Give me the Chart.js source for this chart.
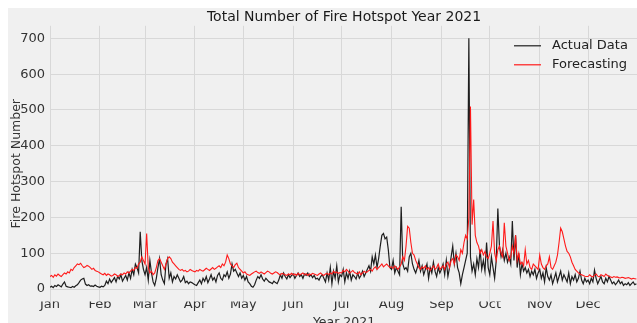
<!DOCTYPE html>
<html>
<head>
<meta charset="utf-8">
<script src="https://cdn.jsdelivr.net/npm/chart.js@4/dist/chart.umd.min.js"></script>
<style>
  html, body { margin: 0; padding: 0; background: #ffffff; overflow: hidden; }
  #wrap { position: absolute; left: 8px; top: 8px; width: 630px; height: 325px; }
</style>
</head>
<body>
<div id="wrap"><canvas id="chart"></canvas></div>
<script>
// Daily fire hotspot counts for 2021 (day index 0 = 1 January)
const monthNames = ['Jan','Feb','Mar','Apr','May','Jun','Jul','Aug','Sep','Oct','Nov','Dec'];
const monthStarts = [0, 31, 59, 90, 120, 151, 181, 212, 243, 273, 304, 334];
const yTicks = [0, 100, 200, 300, 400, 500, 600, 700];

const actual = [
  // Jan
  5, 8, 4, 10, 7, 12, 9, 6, 14, 20, 8, 6, 5, 4, 7, 5, 9, 12, 18, 25, 28, 30, 14, 10, 12, 8, 9, 7, 11, 8, 6,
  // Feb
  5, 8, 6, 10, 22, 15, 28, 18, 25, 32, 20, 35, 28, 40, 22, 30, 38, 25, 45, 30, 55, 40, 70, 60, 45, 160, 80, 55,
  // Mar
  40, 60, 25, 80, 45, 20, 10, 30, 60, 85, 40, 25, 15, 70, 85, 30, 45, 20, 35, 28, 40, 30, 20, 25, 35, 18, 22, 15, 20, 18, 15,
  // Apr
  12, 10, 18, 25, 15, 30, 22, 35, 18, 28, 40, 25, 32, 20, 38, 45, 30, 25, 40, 35, 48, 30, 42, 70, 50, 55, 45, 35, 45, 30,
  // May
  38, 25, 35, 20, 15, 8, 5, 12, 25, 35, 30, 40, 28, 22, 30, 25, 20, 18, 15, 22, 18, 15, 25, 40, 30, 45, 35, 28, 40, 32, 38,
  // Jun
  42, 30, 38, 45, 35, 40, 30, 42, 38, 45, 35, 40, 32, 38, 28, 30, 25, 35, 40, 30, 20, 45, 25, 60, 15, 50, 30, 65, 20, 40,
  // Jul
  35, 55, 20, 45, 30, 50, 25, 40, 35, 28, 45, 30, 38, 50, 35, 45, 55, 65, 50, 90, 70, 95, 60, 85, 120, 150, 155, 140, 145, 110, 60,
  // Aug
  55, 80, 45, 60, 50, 40, 230, 70, 55, 60, 50, 90, 100, 70, 55, 45, 60, 80, 50, 65, 40, 55, 70, 30, 60, 45, 75, 50, 35, 60, 45,
  // Sep
  55, 70, 40, 80, 35, 60, 90, 120, 70, 100, 60, 45, 15, 40, 60, 80, 100, 700, 90, 50, 70, 40, 85, 60, 110, 55, 80, 50, 130, 60,
  // Oct
  40, 90, 60, 30, 80, 225, 120, 90, 110, 80, 100, 75, 90, 70, 190, 80, 150, 60, 100, 40, 70, 50, 60, 45, 55, 35, 50, 40, 55, 30, 45,
  // Nov
  55, 30, 45, 20, 60, 35, 25, 40, 15, 30, 45, 20, 35, 50, 25, 40, 30, 20, 45, 15, 35, 25, 40, 20, 30, 50, 25, 15, 30, 20,
  // Dec
  25, 15, 30, 20, 53, 30, 15, 25, 35, 20, 15, 30, 20, 35, 25, 15, 20, 12, 18, 25, 15, 20, 10, 15, 12, 18, 10, 15, 20, 12, 15
];

const forecast = [
  // Jan
  35, 38, 33, 40, 36, 42, 38, 35, 40, 45, 42, 48, 45, 55, 52, 60, 65, 70, 68, 72, 65, 60, 62, 66, 64, 60, 55, 58, 52, 50, 48,
  // Feb
  45, 42, 40, 44, 38, 42, 40, 36, 38, 42, 40, 35, 38, 42, 40, 45, 42, 48, 45, 50, 55, 52, 60, 58, 70, 75, 90, 80,
  // Mar
  70, 155, 60, 45, 50, 40, 45, 60, 80, 85, 75, 65, 55, 70, 85, 90, 85, 75, 70, 65, 60, 55, 52, 55, 50, 52, 48, 50, 55, 52, 50,
  // Apr
  48, 52, 50, 55, 52, 50, 54, 58, 55, 52, 56, 60, 55, 58, 62, 65, 60, 70, 65, 75, 95, 85, 70, 65, 60, 68, 72, 60, 55, 50,
  // May
  45, 48, 42, 40, 38, 42, 45, 48, 50, 46, 44, 48, 45, 42, 46, 50, 48, 44, 42, 45, 48, 46, 42, 40, 44, 42, 40, 38, 42, 40, 44,
  // Jun
  40, 42, 38, 44, 40, 42, 45, 40, 43, 38, 42, 40, 44, 42, 40, 38, 42, 45, 40, 38, 42, 44, 40, 45, 42, 50, 45, 48, 44, 46,
  // Jul
  45, 52, 48, 55, 50, 45, 48, 52, 46, 44, 42, 48, 40, 45, 50, 46, 48, 52, 55, 50, 58, 62, 55, 60, 65, 70, 62, 66, 70, 65, 60,
  // Aug
  62, 58, 65, 60, 55, 62, 70, 90, 80, 120, 175, 170, 130, 100, 95, 80, 70, 60, 55, 62, 58, 65, 55, 60, 52, 58, 65, 55, 60, 70, 55,
  // Sep
  60, 65, 55, 70, 75, 60, 80, 85, 70, 95, 90, 80, 110, 100, 130, 150, 140, 200, 510, 180, 250, 150, 130, 120, 100, 110, 95, 105, 90, 85,
  // Oct
  100, 120, 190, 100, 80, 110, 120, 100, 90, 185, 120, 100, 80, 90, 120, 100, 150, 80, 100, 70, 75, 65, 110, 70, 80, 60, 55, 70, 65, 60, 55,
  // Nov
  95, 70, 60, 55, 65, 70, 90, 60, 55, 65, 75, 95, 130, 170, 160, 140, 120, 105, 100, 90, 75, 65, 55, 50, 45, 42, 40, 38, 36, 35,
  // Dec
  35, 40, 36, 34, 38, 42, 36, 34, 40, 38, 35, 42, 38, 36, 34, 32, 35, 33, 34, 32, 31, 33, 32, 30, 31, 32, 30, 28, 30, 29, 28
];

const FONT = 'DejaVu Sans';
const BG = '#f0f0f0';

// Fill the figure background
const background = {
  id: 'background',
  beforeDraw(chart) {
    const ctx = chart.ctx;
    ctx.save();
    ctx.fillStyle = BG;
    ctx.fillRect(0, 0, chart.width, chart.height);
    ctx.restore();
  }
};

// Legend drawn in the upper right corner of the plot
const cornerLegend = {
  id: 'cornerLegend',
  afterDatasetsDraw(chart) {
    const ctx = chart.ctx;
    const area = chart.chartArea;
    const x0 = area.right - 124;
    const y0 = area.top + 20;
    const rowGap = 19;
    ctx.save();
    ctx.font = '13px "' + FONT + '"';
    ctx.textBaseline = 'middle';
    chart.data.datasets.slice().sort((a, b) => a.legendRank - b.legendRank).forEach((ds, i) => {
      const y = y0 + i * rowGap;
      ctx.strokeStyle = ds.borderColor;
      ctx.lineWidth = 1.2;
      ctx.beginPath();
      ctx.moveTo(x0, y);
      ctx.lineTo(x0 + 27, y);
      ctx.stroke();
      ctx.fillStyle = '#222222';
      ctx.fillText(ds.label, x0 + 38, y);
    });
    ctx.restore();
  }
};

const toPoints = arr => arr.map((v, i) => ({ x: i, y: v }));

new Chart(document.getElementById('chart'), {
  type: 'line',
  data: {
    datasets: [
      {
        label: 'Forecasting',
        legendRank: 1,
        data: toPoints(forecast),
        borderColor: '#ff1a1a',
        borderWidth: 1.1,
        pointRadius: 0,
        tension: 0,
        order: 0
      },
      {
        label: 'Actual Data',
        legendRank: 0,
        data: toPoints(actual),
        borderColor: '#1e1e1e',
        borderWidth: 1.2,
        pointRadius: 0,
        tension: 0,
        order: 1
      }
    ]
  },
  options: {
    responsive: true,
    maintainAspectRatio: false,
    animation: false,
    layout: { padding: { left: 0, right: 0, top: 0, bottom: 0 } },
    plugins: {
      legend: { display: false },
      tooltip: { enabled: false },
      title: {
        display: true,
        text: 'Total Number of Fire Hotspot Year 2021',
        fullSize: false,
        color: '#1a1a1a',
        font: { family: FONT, size: 14, weight: 'normal' },
        padding: { top: 1, bottom: 0 }
      }
    },
    scales: {
      x: {
        type: 'linear',
        min: 0,
        max: 365,
        afterBuildTicks(scale) {
          scale.ticks = monthStarts.map(v => ({ value: v }));
        },
        afterFit(scale) {
          scale.height = 31.4;
        },
        ticks: {
          autoSkip: false,
          maxRotation: 0,
          padding: -5,
          color: '#333333',
          font: { family: FONT, size: 13 },
          callback(value) {
            const k = monthStarts.indexOf(value);
            return k >= 0 ? monthNames[k] : '';
          }
        },
        grid: { color: '#d8d8d8', lineWidth: 1, drawTicks: false },
        border: { display: false },
        title: {
          display: true,
          text: 'Year 2021',
          color: '#333333',
          font: { family: FONT, size: 12.5 },
          padding: { top: 0, bottom: 3 }
        }
      },
      y: {
        min: -35,
        max: 735,
        afterBuildTicks(scale) {
          scale.ticks = yTicks.map(v => ({ value: v }));
        },
        afterFit(scale) {
          scale.width = 42;
        },
        ticks: {
          padding: 5,
          color: '#333333',
          font: { family: FONT, size: 13 }
        },
        grid: { color: '#d8d8d8', lineWidth: 1, drawTicks: false },
        border: { display: false },
        title: {
          display: true,
          text: 'Fire Hotspot Number',
          color: '#333333',
          font: { family: FONT, size: 12.5 },
          padding: { top: 1, bottom: 0 }
        }
      }
    }
  },
  plugins: [background, cornerLegend]
});
</script>
</body>
</html>
